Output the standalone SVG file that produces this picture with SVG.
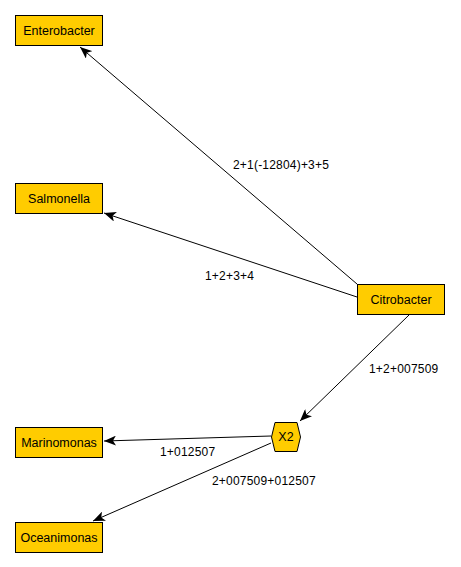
<svg xmlns="http://www.w3.org/2000/svg" width="461" height="567" viewBox="0 0 461 567">
<style>
.n{fill:#FFCC00;stroke:#000;stroke-width:1}
.t{font-family:"Liberation Sans",Arial,sans-serif;font-size:12.5px;fill:#000;text-anchor:middle}
.e{stroke:#000;stroke-width:1;fill:none;marker-end:url(#a)}
.l{font-family:"Liberation Sans",Arial,sans-serif;font-size:12px;letter-spacing:0.2px;fill:#000}
</style>
<defs>
<marker id="a" viewBox="0 0 12 10" refX="12" refY="5" markerWidth="12" markerHeight="10" markerUnits="userSpaceOnUse" orient="auto">
<path d="M0,0 L12,5 L0,10 L3,5 Z" fill="#000"/>
</marker>
</defs>
<rect width="461" height="567" fill="#fff"/>
<g id="edges">
<line class="e" x1="357" y1="284" x2="80" y2="47"/>
<line class="e" x1="357" y1="297" x2="104" y2="213"/>
<line class="e" x1="409" y1="315" x2="300" y2="421"/>
<line class="e" x1="271" y1="436" x2="104" y2="441"/>
<line class="e" x1="271" y1="443" x2="93" y2="521"/>
<text class="l" x="233" y="169">2+1(-12804)+3+5</text>
<text class="l" x="205" y="280">1+2+3+4</text>
<text class="l" x="369" y="373">1+2+007509</text>
<text class="l" x="160" y="456">1+012507</text>
<text class="l" x="212" y="485">2+007509+012507</text>
</g>
<g id="Enterobacter"><rect class="n" x="15.5" y="15.5" width="87" height="30"/><text class="t" x="59" y="35">Enterobacter</text></g>
<g id="Salmonella"><rect class="n" x="15.5" y="183.5" width="87" height="30"/><text class="t" x="59" y="203">Salmonella</text></g>
<g id="Citrobacter"><rect class="n" x="357.5" y="284.5" width="87" height="30"/><text class="t" x="401" y="304">Citrobacter</text></g>
<g id="X2"><polygon class="n" points="271.5,437 275,422.5 297,422.5 300.5,437 297,451.5 275,451.5"/><text class="t" x="286" y="441">X2</text></g>
<g id="Marinomonas"><rect class="n" x="15.5" y="427.5" width="87" height="30"/><text class="t" x="59" y="447">Marinomonas</text></g>
<g id="Oceanimonas"><rect class="n" x="15.5" y="522.5" width="87" height="30"/><text class="t" x="59" y="542">Oceanimonas</text></g>
</svg>
